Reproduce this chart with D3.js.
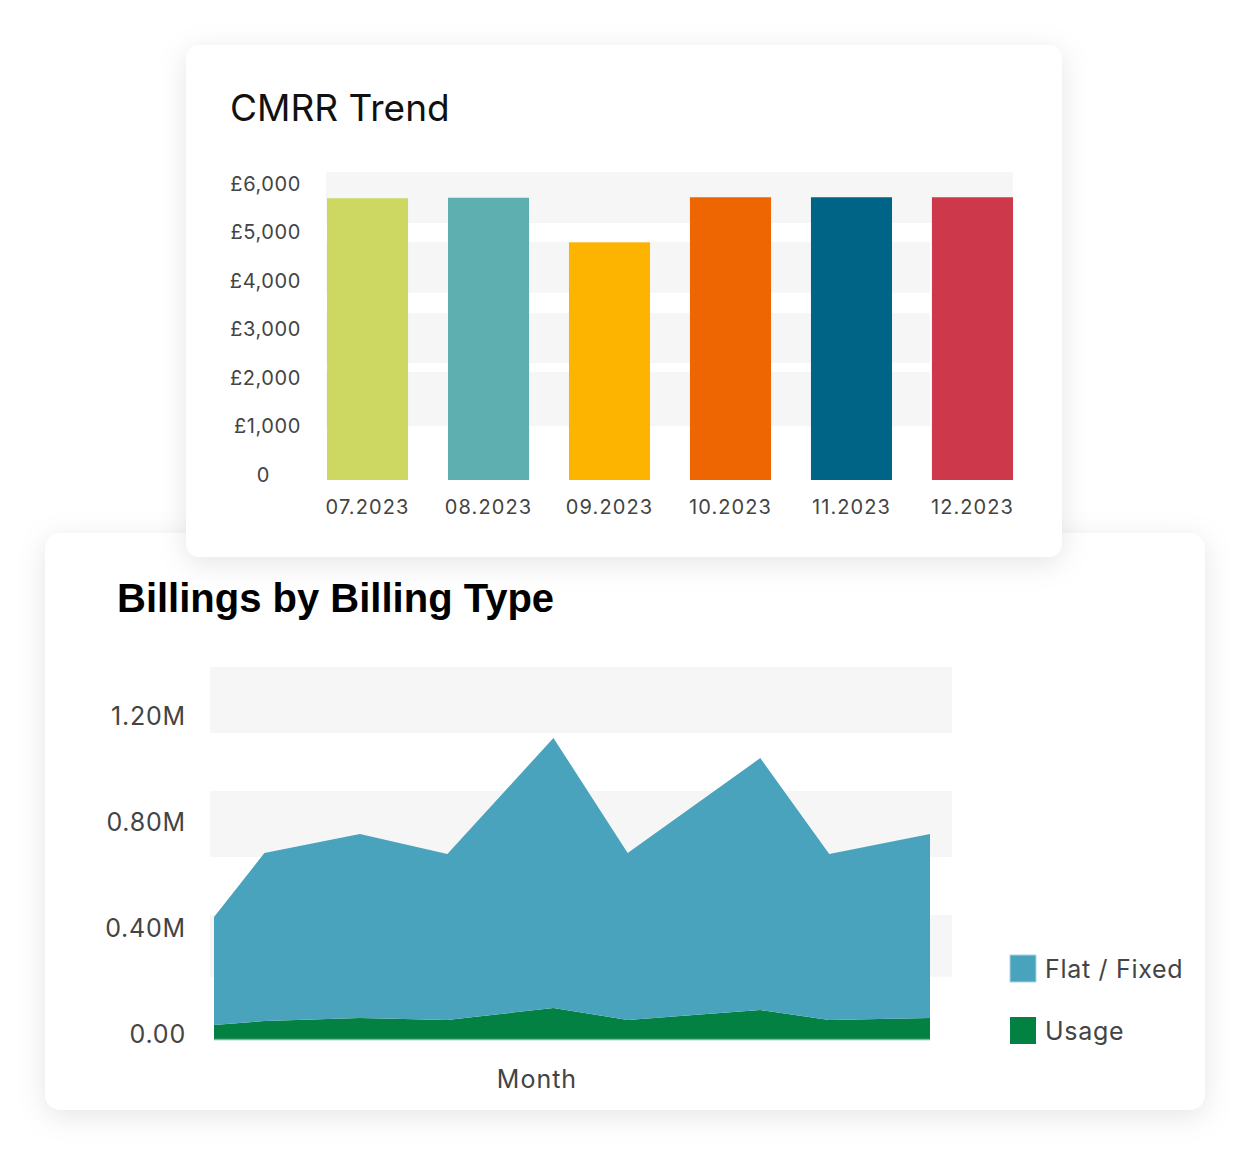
<!DOCTYPE html>
<html>
<head>
<meta charset="utf-8">
<script src="https://cdn.jsdelivr.net/npm/d3@7"></script>
<style>
  html, body { margin: 0; padding: 0; background: #fff; }
  svg { display: block; }
  .tick text { fill: #444; }
</style>
</head>
<body>
<div id="chart"></div>
<script>
/**
 * data
 */

// CMRR trend (bar chart)
const cmrrMonths = ["07.2023", "08.2023", "09.2023", "10.2023", "11.2023", "12.2023"];
const cmrrValues = [5810, 5820, 4900, 5830, 5830, 5830];
const cmrrColors = ["#cdd862", "#5eb0b0", "#fdb400", "#ee6602", "#006487", "#cd384b"];
const cmrrTicks = [0, 1000, 2000, 3000, 4000, 5000, 6000];
// shaded background rows, as value ranges [low, high]
const cmrrBands = [[5300, 6350], [3860, 4910], [2410, 3440], [1110, 2230]];

// billings by billing type (stacked area)
const billingDates = ["2023-01-01", "2023-01-20", "2023-02-25", "2023-03-30", "2023-05-09",
                      "2023-06-06", "2023-07-26", "2023-08-21", "2023-09-28"];
const flatValues  = [0.407e6, 0.634e6, 0.695e6, 0.626e6, 1.019e6, 0.630e6, 0.951e6, 0.626e6, 0.695e6];
const usageValues = [0.053e6, 0.068e6, 0.079e6, 0.072e6, 0.117e6, 0.072e6, 0.109e6, 0.072e6, 0.079e6];
const billingSeries = ["Flat / Fixed", "Usage"];
const billingColors = ["#4aa3bd", "#028142"];
const billingTicks = [0, 0.4e6, 0.8e6, 1.2e6];
const billingBands = [[0.235e6, 0.468e6], [0.687e6, 0.936e6], [1.155e6, 1.404e6]];

/**
 * constants
 */

const WIDTH = 1250;
const HEIGHT = 1157;
const TICK_FONT = "Inter, 'Noto Sans', sans-serif";

const svg = d3.select("#chart").append("svg")
              .attr("width", WIDTH)
              .attr("height", HEIGHT);

// soft shadow for the cards
const defs = svg.append("defs");
const shadow = defs.append("filter")
                   .attr("id", "cardShadow")
                   .attr("x", "-10%").attr("y", "-10%")
                   .attr("width", "120%").attr("height", "125%");
shadow.append("feDropShadow")
      .attr("dx", 0)
      .attr("dy", 6)
      .attr("stdDeviation", 14)
      .attr("flood-color", "#000")
      .attr("flood-opacity", 0.1);

/**
 * lower card: billings by billing type
 */

const lower = svg.append("g");

lower.append("rect")
     .attr("x", 45).attr("y", 533)
     .attr("width", 1160).attr("height", 577)
     .attr("rx", 16)
     .attr("fill", "#fff")
     .attr("filter", "url(#cardShadow)");

lower.append("text")
     .attr("x", 117)
     .attr("y", 612)
     .attr("font-family", "'Liberation Sans', Arial, sans-serif")
     .attr("font-weight", "bold")
     .attr("font-size", "40px")
     .attr("fill", "#000")
     .text("Billings by Billing Type");

const bx = d3.scaleTime()
             .domain(d3.extent(billingDates, d => new Date(d)))
             .range([214, 930]);

const by = d3.scaleLinear()
             .domain([0, 1.2e6])
             .range([1039, 721]);

// background rows
lower.selectAll(".bBand")
     .data(billingBands)
     .enter()
     .append("rect")
     .attr("class", "bBand")
     .attr("x", 210)
     .attr("width", 742)
     .attr("y", d => by(d[1]))
     .attr("height", d => by(d[0]) - by(d[1]))
     .attr("fill", "#f6f6f6");

const rows = billingDates.map((d, i) => ({
    date: new Date(d),
    "Usage": usageValues[i],
    "Flat / Fixed": flatValues[i]
}));

const stack = d3.stack().keys(["Usage", "Flat / Fixed"]);
const layers = stack(rows);

const area = d3.area()
               .x(d => bx(d.data.date))
               .y0(d => by(d[0]))
               .y1(d => by(d[1]));

lower.selectAll(".layer")
     .data(layers)
     .enter()
     .append("path")
     .attr("class", "layer")
     .attr("d", area)
     .attr("fill", d => billingColors[billingSeries.indexOf(d.key)]);

// thin baseline under the areas
lower.append("line")
     .attr("x1", bx.range()[0]).attr("x2", bx.range()[1])
     .attr("y1", by(0) + 0.5).attr("y2", by(0) + 0.5)
     .attr("stroke", "#6cc095")
     .attr("stroke-width", 1.5);

const bAxis = lower.append("g")
                   .attr("class", "axis y-axis")
                   .attr("transform", "translate(186, 0)")
                   .call(d3.axisLeft(by)
                           .tickValues(billingTicks)
                           .tickSize(0)
                           .tickPadding(0)
                           .tickFormat(d => d === 0 ? "0.00" : d3.format(".2f")(d / 1e6) + "M"));
bAxis.select(".domain").remove();
bAxis.selectAll("text")
     .attr("font-family", TICK_FONT)
     .attr("font-size", "25px")
     .attr("letter-spacing", "0.8px")
     .attr("dy", "0.32em")
     .attr("y", -5);

lower.append("text")
     .attr("x", 537)
     .attr("y", 1088)
     .attr("text-anchor", "middle")
     .attr("font-family", TICK_FONT)
     .attr("font-size", "25px")
     .attr("letter-spacing", "1px")
     .attr("fill", "#444")
     .text("Month");

// legend
const legend = lower.selectAll(".legendItem")
                    .data(billingSeries)
                    .enter()
                    .append("g")
                    .attr("class", "legendItem")
                    .attr("transform", (d, i) => `translate(1010, ${955 + i * 62})`);

legend.append("rect")
      .attr("width", 26)
      .attr("height", 27)
      .attr("fill", (d, i) => billingColors[i])
      .attr("stroke", (d, i) => i === 0 ? "#a5d6e6" : "none")
      .attr("stroke-width", 1);

legend.append("text")
      .attr("x", 35)
      .attr("y", 14)
      .attr("dy", "0.35em")
      .attr("font-family", TICK_FONT)
      .attr("font-size", "25px")
      .attr("letter-spacing", "0.7px")
      .attr("fill", "#444")
      .text(d => d);

/**
 * upper card: CMRR trend
 */

const upper = svg.append("g");

upper.append("rect")
     .attr("x", 186).attr("y", 45)
     .attr("width", 876).attr("height", 512)
     .attr("rx", 14)
     .attr("fill", "#fff")
     .attr("filter", "url(#cardShadow)");

upper.append("text")
     .attr("x", 230)
     .attr("y", 121)
     .attr("font-family", TICK_FONT)
     .attr("font-size", "37px")
     .attr("fill", "#111")
     .text("CMRR Trend");

const x = d3.scaleBand()
            .domain(cmrrMonths)
            .range([327, 1013])
            .paddingInner(0.33)
            .paddingOuter(0);

const y = d3.scaleLinear()
            .domain([0, 6000])
            .range([480, 189]);

// background rows; the lower ones stop before the last bar
upper.selectAll(".cBand")
     .data(cmrrBands)
     .enter()
     .append("rect")
     .attr("class", "cBand")
     .attr("x", 326)
     .attr("width", (d, i) => i === 0 ? 1013 - 326 : x(cmrrMonths[5]) - 2 - 326)
     .attr("y", d => y(d[1]))
     .attr("height", d => y(d[0]) - y(d[1]))
     .attr("fill", "#f6f6f6");

upper.selectAll(".bar")
     .data(cmrrValues)
     .enter()
     .append("rect")
     .attr("class", "bar")
     .attr("x", (d, i) => x(cmrrMonths[i]))
     .attr("width", x.bandwidth())
     .attr("y", d => y(d))
     .attr("height", d => y(0) - y(d))
     .attr("fill", (d, i) => cmrrColors[i]);

const yAxis = upper.append("g")
                   .attr("class", "axis y-axis")
                   .attr("transform", "translate(301, 0)")
                   .call(d3.axisLeft(y)
                           .tickValues(cmrrTicks)
                           .tickSize(0)
                           .tickPadding(0)
                           .tickFormat(d => d === 0 ? "0" : "£" + d3.format(",")(d)));
yAxis.select(".domain").remove();
yAxis.selectAll("text")
     .attr("font-family", TICK_FONT)
     .attr("font-size", "20px")
     .attr("letter-spacing", "0.6px")
     .attr("dy", "0.32em")
     .attr("y", -5);
// the zero label sits a bit further in
yAxis.selectAll(".tick")
     .filter(d => d === 0)
     .select("text")
     .attr("x", -31);

const xAxis = upper.append("g")
                   .attr("class", "axis x-axis")
                   .attr("transform", "translate(0, 480)")
                   .call(d3.axisBottom(x).tickSize(0).tickPadding(0));
xAxis.select(".domain").remove();
xAxis.selectAll("text")
     .attr("font-family", TICK_FONT)
     .attr("font-size", "20px")
     .attr("letter-spacing", "1.1px")
     .attr("y", 28)
     .attr("dy", "0.32em");
</script>
</body>
</html>
